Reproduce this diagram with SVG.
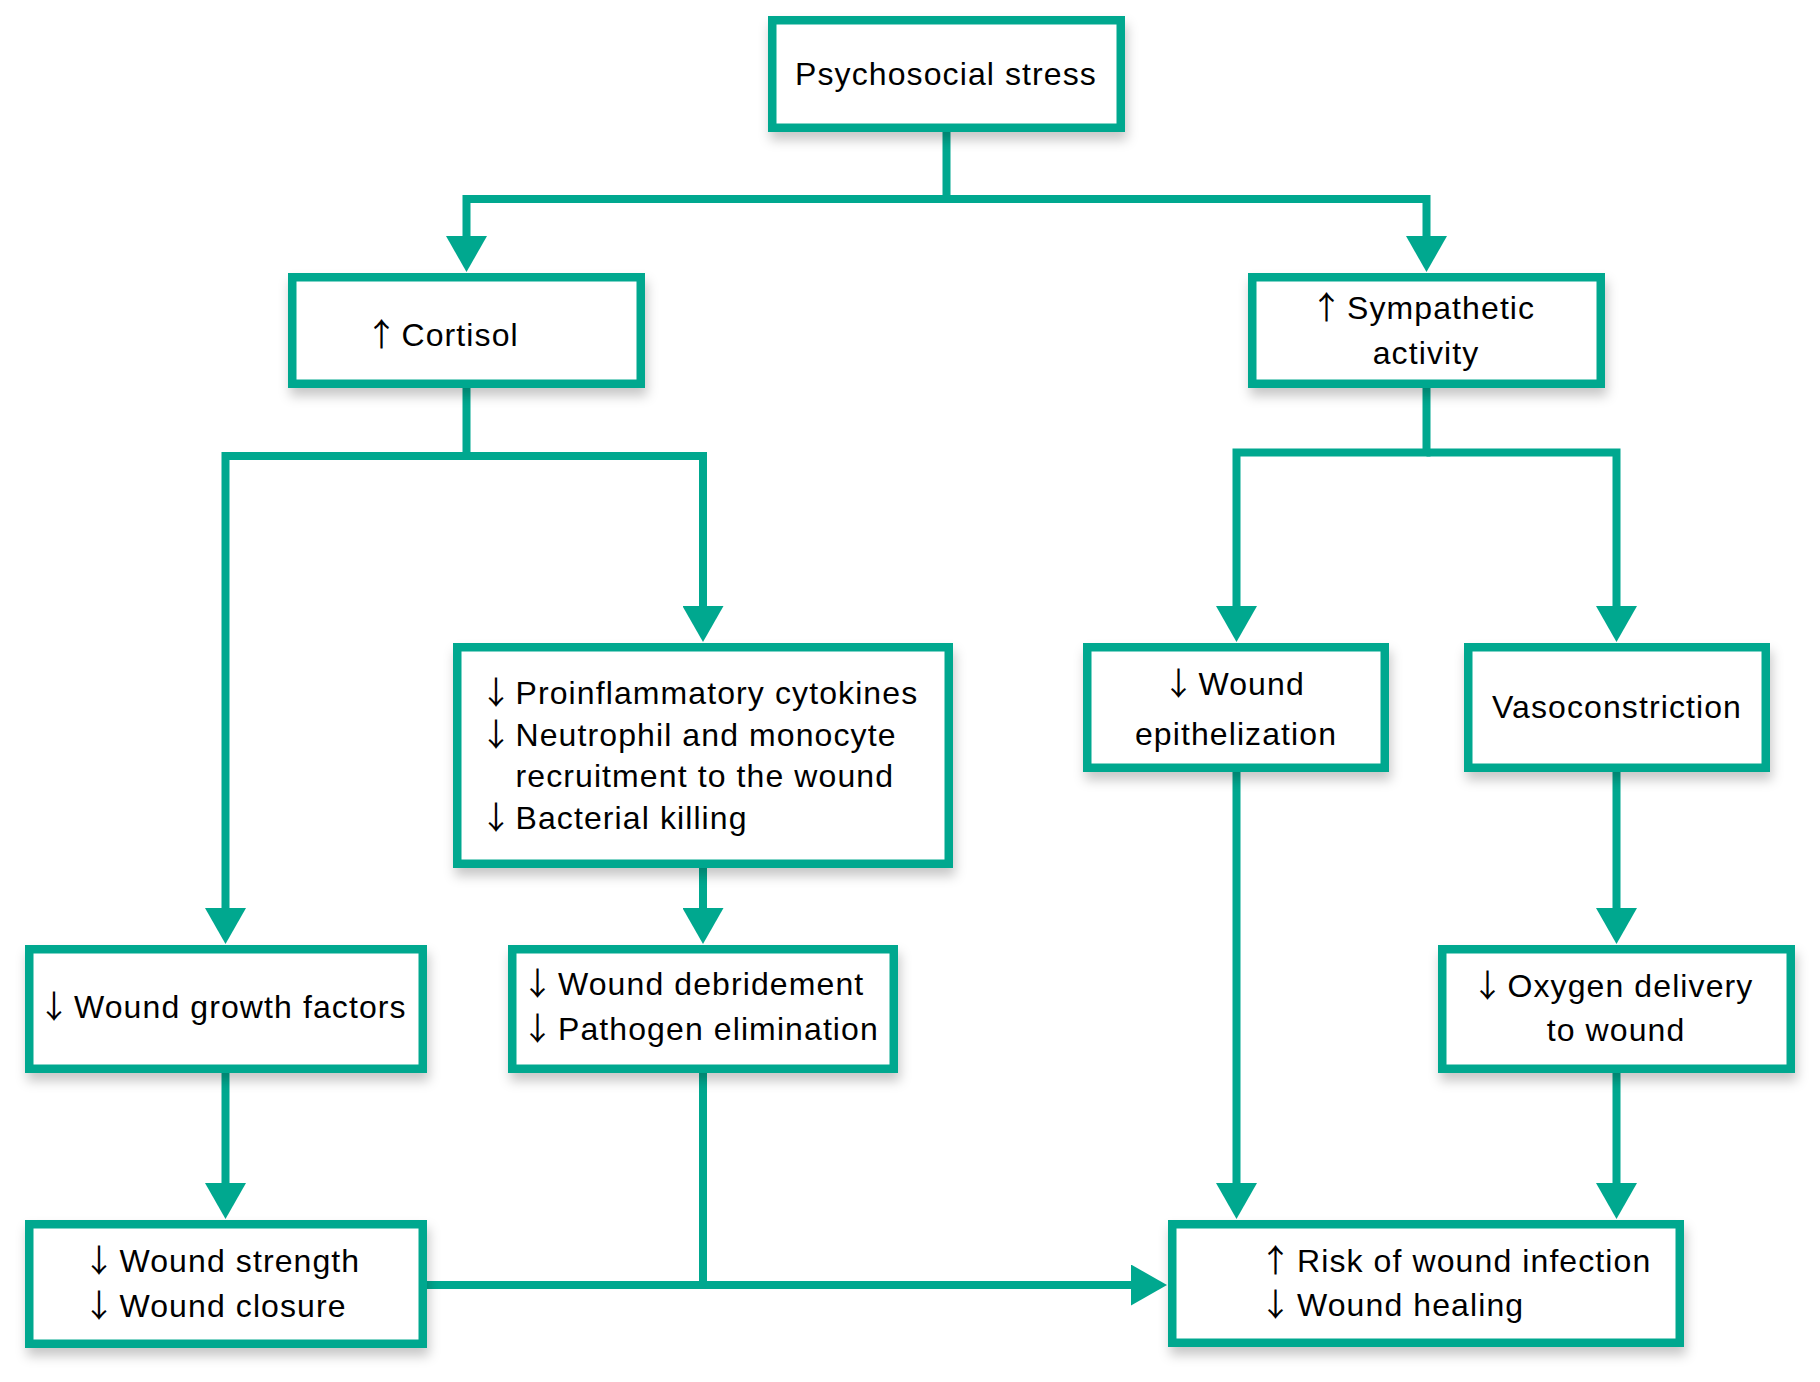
<svg xmlns="http://www.w3.org/2000/svg" width="1820" height="1382" viewBox="0 0 1820 1382">
<style>
.box{fill:#fff;stroke:#00a88f;stroke-width:8.5;filter:url(#sh)}
.t{font-family:"Liberation Sans",Arial,sans-serif;font-size:32px;letter-spacing:1.1px;fill:#000}
.a{font-family:"Noto Sans CJK JP","Noto Sans CJK SC",sans-serif;font-size:32px;text-anchor:middle;fill:#000}
.c{text-anchor:middle}
.con{fill:none;stroke:#00a88f;stroke-width:8;stroke-linejoin:miter;stroke-linecap:butt}
.ar{marker-end:url(#ah)}
</style>
<defs>
<filter id="sh" x="-10%" y="-15%" width="125%" height="150%">
<feDropShadow dx="2" dy="8" stdDeviation="6" flood-color="#000" flood-opacity="0.22"/>
</filter>
<marker id="ah" markerUnits="userSpaceOnUse" markerWidth="36" markerHeight="41" viewBox="0 0 36 41" refX="1" refY="20.5" orient="auto">
<path d="M0,0 L36,20.5 L0,41 Z" fill="#00a88f"/>
</marker>
</defs>
<g id="connectors">
<path class="con ar" d="M946.5,132 V199 H466.5 V237"/>
<path class="con ar" d="M946.5,199 H1426.5 V237"/>
<path class="con ar" d="M466.5,388 V456 H225.5 V909"/>
<path class="con ar" d="M466.5,456 H703 V607"/>
<path class="con ar" d="M1426.5,388 V452.5 H1236.5 V607"/>
<path class="con ar" d="M1426.5,452.5 H1616.5 V607"/>
<path class="con ar" d="M703,868 V909"/>
<path class="con ar" d="M225.5,1073 V1184"/>
<path class="con ar" d="M1616.5,772 V909"/>
<path class="con ar" d="M1236.5,772 V1184"/>
<path class="con ar" d="M1616.5,1073 V1184"/>
<path class="con ar" d="M427,1285 H1132"/>
<path class="con" d="M703,1073 V1289"/>
</g>
<g id="psychosocial">
<rect class="box" x="772.25" y="20.25" width="348.5" height="107.5"/>
<text class="t c" x="946" y="85">Psychosocial stress</text>
</g>
<g id="cortisol">
<rect class="box" x="292.25" y="277.25" width="348.5" height="106.5"/>
<text class="a" x="381.5" y="346">↑</text>
<text class="t" x="401.5" y="346">Cortisol</text>
</g>
<g id="sympathetic">
<rect class="box" x="1252.25" y="277.25" width="348.5" height="106.5"/>
<text class="a" x="1326.5" y="319">↑</text>
<text class="t" x="1347" y="319">Sympathetic</text>
<text class="t c" x="1426" y="364">activity</text>
</g>
<g id="growth">
<rect class="box" x="29.25" y="949.25" width="393.5" height="119.5"/>
<text class="a" x="54" y="1018">↓</text>
<text class="t" x="74" y="1018">Wound growth factors</text>
</g>
<g id="strength">
<rect class="box" x="29.25" y="1224.25" width="393.5" height="119.5"/>
<text class="a" x="99" y="1272">↓</text>
<text class="t" x="119.5" y="1272">Wound strength</text>
<text class="a" x="99" y="1317">↓</text>
<text class="t" x="119.5" y="1317">Wound closure</text>
</g>
<g id="proinflammatory">
<rect class="box" x="457.25" y="647.25" width="491.5" height="216.5"/>
<text class="a" x="496" y="704">↓</text>
<text class="t" x="515.5" y="704">Proinflammatory cytokines</text>
<text class="a" x="496" y="745.6">↓</text>
<text class="t" x="515.5" y="745.6">Neutrophil and monocyte</text>
<text class="t" x="515.5" y="787.2">recruitment to the wound</text>
<text class="a" x="496" y="828.8">↓</text>
<text class="t" x="515.5" y="828.8">Bacterial killing</text>
</g>
<g id="debridement">
<rect class="box" x="512.25" y="949.25" width="381.5" height="119.5"/>
<text class="a" x="537.5" y="995">↓</text>
<text class="t" x="558" y="995">Wound debridement</text>
<text class="a" x="537.5" y="1040">↓</text>
<text class="t" x="558" y="1040">Pathogen elimination</text>
</g>
<g id="epithelization">
<rect class="box" x="1087.25" y="647.25" width="297.5" height="120.5"/>
<text class="a" x="1178.5" y="695">↓</text>
<text class="t" x="1198.5" y="695">Wound</text>
<text class="t c" x="1236" y="744.5">epithelization</text>
</g>
<g id="vasoconstriction">
<rect class="box" x="1468.25" y="647.25" width="297.5" height="120.5"/>
<text class="t c" x="1617" y="718">Vasoconstriction</text>
</g>
<g id="oxygen">
<rect class="box" x="1442.25" y="949.25" width="348.5" height="119.5"/>
<text class="a" x="1487.5" y="997">↓</text>
<text class="t" x="1507.5" y="997">Oxygen delivery</text>
<text class="t c" x="1616" y="1041">to wound</text>
</g>
<g id="risk">
<rect class="box" x="1172.25" y="1224.25" width="507.5" height="118.5"/>
<text class="a" x="1275.5" y="1272">↑</text>
<text class="t" x="1297" y="1272">Risk of wound infection</text>
<text class="a" x="1275.5" y="1316">↓</text>
<text class="t" x="1297" y="1316">Wound healing</text>
</g>
</svg>
